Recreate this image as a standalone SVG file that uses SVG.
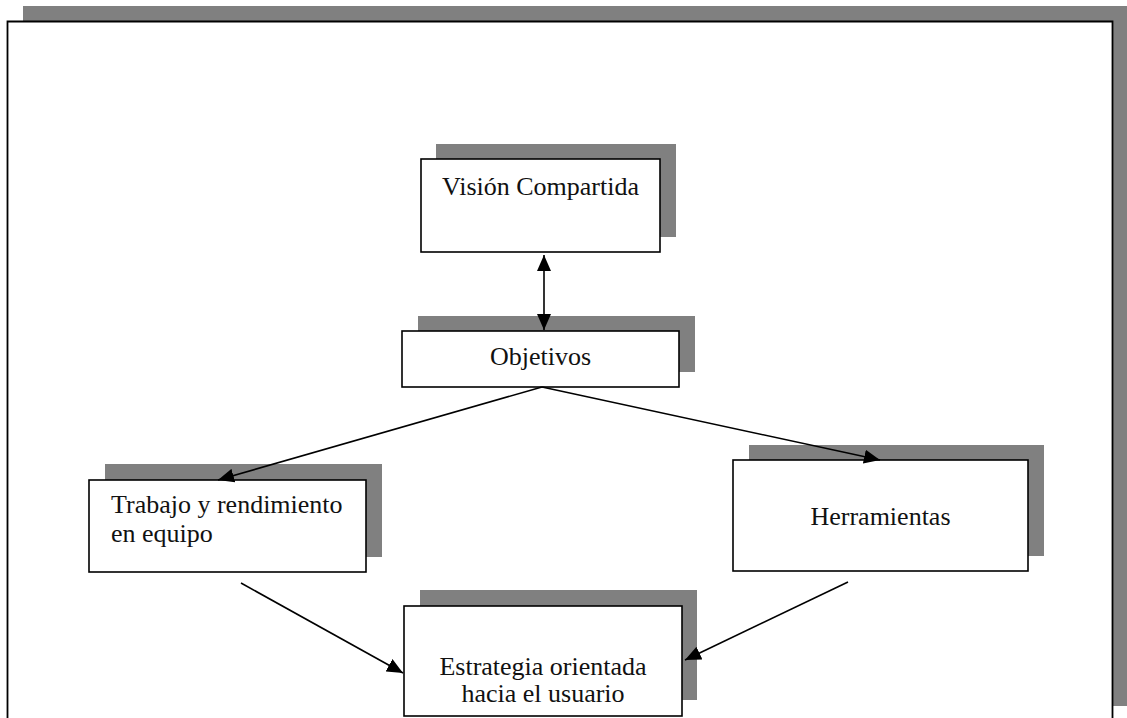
<svg xmlns="http://www.w3.org/2000/svg" width="1127" height="718" viewBox="0 0 1127 718">
  <style>
    .shadow { fill: #808080; stroke: none; }
    .box { fill: #ffffff; stroke: #000000; stroke-width: 1.6; }
    .label { font-family: "Liberation Serif", "Times New Roman", serif; font-size: 26px; fill: #111111; }
    .link { fill: none; stroke: #000000; stroke-width: 1.6; }
  </style>
  <defs>
    <marker id="arrow" viewBox="0 0 16 14" refX="16" refY="7" markerWidth="16" markerHeight="14" markerUnits="userSpaceOnUse" orient="auto-start-reverse">
      <path d="M0,0 L16,7 L0,14 Z" fill="#000000"/>
    </marker>
  </defs>

  <rect width="1127" height="718" fill="#ffffff"/>

  <!-- page frame with drop shadow -->
  <g id="frame">
    <rect class="shadow" x="23" y="6" width="1104" height="15"/>
    <rect class="shadow" x="1113" y="6" width="14" height="700"/>
    <path d="M7.5,718 V21.5 H1112.5 V718" fill="none" stroke="#000000" stroke-width="1.8"/>
  </g>

  <g id="vision">
    <rect class="shadow" x="436" y="144" width="240" height="93"/>
    <rect class="box" x="421" y="159" width="239" height="93"/>
    <text class="label" x="540.5" y="195" text-anchor="middle">Visión Compartida</text>
  </g>

  <g id="objetivos">
    <rect class="shadow" x="418" y="316" width="277" height="56"/>
    <rect class="box" x="402" y="331" width="277" height="56"/>
    <text class="label" x="540.5" y="365" text-anchor="middle">Objetivos</text>
  </g>

  <g id="trabajo">
    <rect class="shadow" x="105" y="464" width="277" height="93"/>
    <rect class="box" x="89" y="480" width="277" height="92"/>
    <text class="label" x="111" y="513">Trabajo y rendimiento</text>
    <text class="label" x="111" y="542">en equipo</text>
  </g>

  <g id="herramientas">
    <rect class="shadow" x="749" y="445" width="295" height="111"/>
    <rect class="box" x="733" y="460" width="295" height="111"/>
    <text class="label" x="880.5" y="525" text-anchor="middle">Herramientas</text>
  </g>

  <g id="estrategia">
    <rect class="shadow" x="420" y="590" width="277" height="110"/>
    <rect class="box" x="404" y="606" width="278" height="110"/>
    <text class="label" x="543" y="675" text-anchor="middle">Estrategia orientada</text>
    <text class="label" x="543" y="702" text-anchor="middle">hacia el usuario</text>
  </g>

  <g id="connectors">
    <line class="link" x1="544" y1="255" x2="544" y2="330" marker-start="url(#arrow)" marker-end="url(#arrow)"/>
    <line class="link" x1="542" y1="387" x2="218" y2="480" marker-end="url(#arrow)"/>
    <line class="link" x1="542" y1="387" x2="880" y2="460" marker-end="url(#arrow)"/>
    <line class="link" x1="241" y1="583" x2="403" y2="673" marker-end="url(#arrow)"/>
    <line class="link" x1="848" y1="582" x2="685" y2="660" marker-end="url(#arrow)"/>
  </g>
</svg>
